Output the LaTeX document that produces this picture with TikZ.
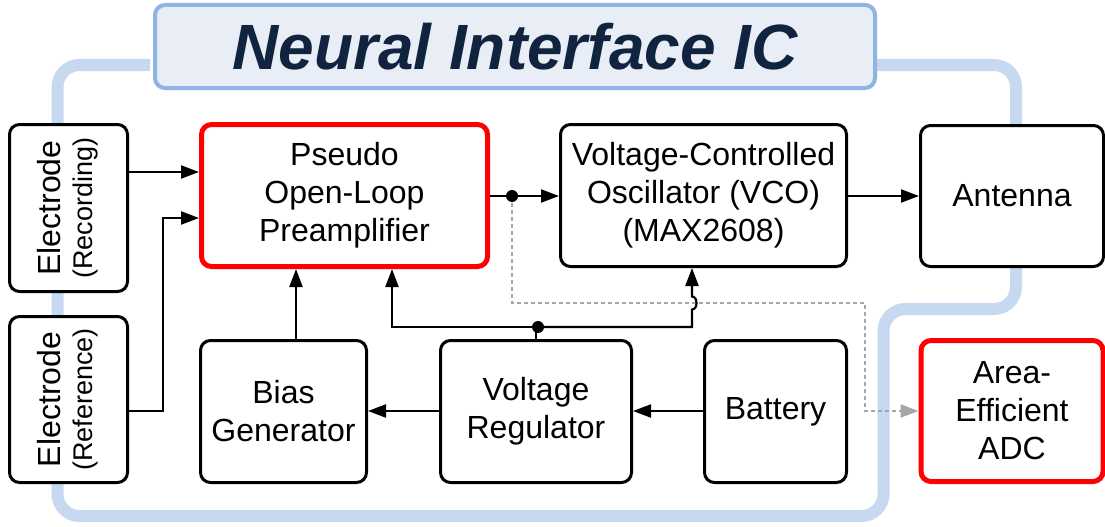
\documentclass[tikz,border=0pt]{standalone}
\usepackage{fontspec}
\setmainfont{Liberation Sans}
\usetikzlibrary{arrows.meta}
\definecolor{trackblue}{HTML}{C6D9F0}
\definecolor{titleborder}{HTML}{8EB4E3}
\definecolor{titlefill}{HTML}{E9EEF6}
\definecolor{titletext}{HTML}{10243F}
\definecolor{dashgray}{HTML}{A6A6A6}
\definecolor{hotred}{HTML}{FF0000}
\begin{document}
\begin{tikzpicture}[x=1pt,y=-1pt,
  blk/.style={draw=black, line width=3pt, fill=white, rounded corners=10pt,
    align=center, inner sep=0pt, font=\fontsize{32}{38}\selectfont},
  redblk/.style={blk, draw=hotred, line width=5pt},
  arr/.style={line width=2.2pt, -{Triangle[length=18pt,width=13pt]}},
  plain/.style={line width=2.2pt},
  garr/.style={line width=2pt, draw=dashgray, dash pattern=on 4pt off 3pt,
    -{Triangle[length=18pt,width=13pt,fill=dashgray]}},
  dotn/.style={circle, fill=black, inner sep=0pt, minimum size=12pt},
  track/.style={draw=trackblue, line width=12pt, rounded corners=22pt}
]
\useasboundingbox (0,0) rectangle (1105,527);

% blue background track
\coordinate (tl) at (150,65);
\coordinate (tr) at (874,65);
\path[track] (tl) -- (57.5,65) -- (57.5,516) -- (883.5,516) -- (883.5,309)
  -- (1016,309) -- (1016,65) -- (tr);

% title box
\node[draw=titleborder, line width=4pt, fill=titlefill, rounded corners=10pt,
  minimum width=720pt, minimum height=83pt, inner sep=0pt,
  text=titletext, font=\fontsize{64}{70}\selectfont\bfseries\itshape]
  (title) at (515,46.5) {Neural Interface IC};

% blocks
\node[blk, minimum width=118pt, minimum height=167pt] (erec) at (68.5,208)
  {\rotatebox{90}{\begin{tabular}{@{}c@{}}Electrode\\[-6pt]{\fontsize{27}{30}\selectfont (Recording)}\end{tabular}}};
\node[blk, minimum width=118pt, minimum height=166pt] (eref) at (68.5,399.5)
  {\rotatebox{90}{\begin{tabular}{@{}c@{}}Electrode\\[-6pt]{\fontsize{27}{30}\selectfont (Reference)}\end{tabular}}};
\node[redblk, minimum width=286pt, minimum height=142pt] (pre) at (344.5,195.5)
  {Pseudo\\Open-Loop\\Preamplifier};
\node[blk, minimum width=286pt, minimum height=142pt] (vco) at (703.5,195.5)
  {Voltage-Controlled\\Oscillator (VCO)\\(MAX2608)};
\node[blk, minimum width=183pt, minimum height=141pt] (ant) at (1012,196)
  {Antenna};
\node[blk, minimum width=166pt, minimum height=142pt] (bias) at (283.5,411.5)
  {Bias\\Generator};
\node[blk, minimum width=191pt, minimum height=142pt] (vr) at (536,411.5)
  {Voltage\\Regulator};
\node[blk, minimum width=142pt, minimum height=142pt] (bat) at (775.5,411.5)
  {Battery};
\node[redblk, minimum width=182pt, minimum height=141pt] (adc) at (1012,411)
  {Area-\\Efficient\\ADC};

% junction coordinates
\coordinate (j1) at (512,196);
\coordinate (j2) at (538,327);

% connectors
\draw[arr] (erec.east |- 0,172) -- (pre.west |- 0,172);
\draw[arr] (eref.east |- 0,411) -- (163,411) -- (163,218) -- (pre.west |- 0,218);
\draw[garr] (j1) -- (512,303) -- (865,303) -- (865,411) -- (adc.west |- 0,411);
\draw[arr] (pre.east |- j1) -- (vco.west |- j1);
\node[dotn] at (j1) {};
\draw[arr] (vco.east |- 0,196) -- (ant.west |- 0,196);
\draw[plain] (vr.north |- j2) -- (vr.north);
\draw[arr] (j2) -- (392,327) -- (pre.south -| 392,0);
\draw[arr] (j2) -- (692,327) -- (692,309.5) .. controls (698,309.5) and (698,296.5) .. (692,296.5)
  -- (vco.south -| 692,0);
\node[dotn] at (j2) {};
\draw[arr] (bias.north -| 296,0) -- (pre.south -| 296,0);
\draw[arr] (vr.west |- 0,411) -- (bias.east |- 0,411);
\draw[arr] (bat.west |- 0,411) -- (vr.east |- 0,411);
\end{tikzpicture}
\end{document}
